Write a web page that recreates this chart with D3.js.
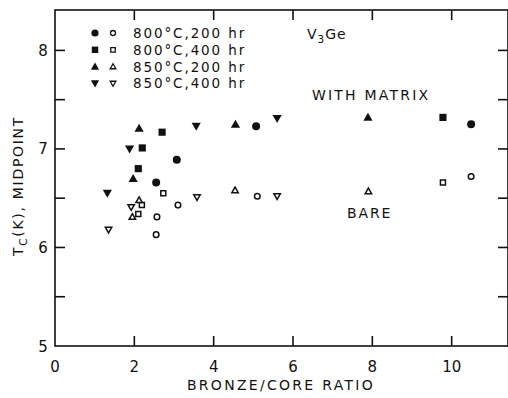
<!DOCTYPE html>
<html>
<head>
<meta charset="utf-8">
<script src="https://cdn.jsdelivr.net/npm/d3@7"></script>
<style>
  body { margin: 0; background: #fff; }
  svg { display: block; }
  text { font-family: "DejaVu Sans", "Liberation Sans", sans-serif; fill: #111; }
</style>
</head>
<body>
<div id="chart"></div>
<script>
"use strict";

// legend / series labels
var seriesNames = ["800\u00B0C,200 hr", "800\u00B0C,400 hr", "850\u00B0C,200 hr", "850\u00B0C,400 hr"];
var seriesShapes = ["circle", "square", "up", "down"];

// [bronze/core ratio, Tc] -- filled = with matrix, open = bare
var c800h200Matrix = [[2.55, 6.66], [3.07, 6.89], [5.07, 7.23], [10.49, 7.25]];
var c800h200Bare   = [[2.55, 6.13], [2.57, 6.31], [3.10, 6.43], [5.10, 6.52], [10.49, 6.72]];
var c800h400Matrix = [[2.10, 6.80], [2.20, 7.01], [2.70, 7.17], [9.78, 7.32]];
var c800h400Bare   = [[2.10, 6.34], [2.19, 6.43], [2.73, 6.55], [9.78, 6.66]];
var c850h200Matrix = [[1.97, 6.70], [2.12, 7.21], [4.55, 7.25], [7.89, 7.32]];
var c850h200Bare   = [[1.95, 6.31], [2.12, 6.48], [4.54, 6.58], [7.90, 6.57]];
var c850h400Matrix = [[1.32, 6.55], [1.88, 7.00], [3.56, 7.23], [5.60, 7.31]];
var c850h400Bare   = [[1.35, 6.18], [1.92, 6.41], [3.58, 6.51], [5.60, 6.52]];

var xTicks = [0, 2, 4, 6, 8, 10];
var yTicks = [5, 6, 7, 8];
var yMinor = [5.5, 6.5, 7.5];

var W = 508, H = 398;
var margin = {left: 55, top: 10, right: 0, bottom: 52};

var svg = d3.select("#chart").append("svg")
	.attr("width", W).attr("height", H);

var x = d3.scaleLinear().domain([0, 11.42]).range([margin.left, W - margin.right]);
var y = d3.scaleLinear().domain([5, 8.41]).range([H - margin.bottom, margin.top]);

//
//	frame + ticks (all ticks point inward)
//
var ax = svg.append("g").attr("stroke", "#111").attr("stroke-width", 1.6).attr("fill", "none");
ax.append("rect")
	.attr("x", x(0)).attr("y", y(8.41))
	.attr("width", x(11.42) - x(0)).attr("height", y(5) - y(8.41));

var tickLen = 10;
xTicks.filter(function(d){ return d > 0; }).forEach(function(d){
	ax.append("line").attr("x1", x(d)).attr("x2", x(d)).attr("y1", y(5)).attr("y2", y(5) - tickLen);
	ax.append("line").attr("x1", x(d)).attr("x2", x(d)).attr("y1", y(8.41)).attr("y2", y(8.41) + tickLen);
});
yTicks.concat(yMinor).filter(function(d){ return d > 5; }).forEach(function(d){
	ax.append("line").attr("x1", x(0)).attr("x2", x(0) + tickLen).attr("y1", y(d)).attr("y2", y(d));
	ax.append("line").attr("x1", x(11.42)).attr("x2", x(11.42) - tickLen).attr("y1", y(d)).attr("y2", y(d));
});

// tick labels
svg.append("g").selectAll("text").data(xTicks).join("text")
	.attr("x", function(d){ return x(d); }).attr("y", 372)
	.attr("text-anchor", "middle").style("font-size", "15px")
	.text(function(d){ return d; });
svg.append("g").selectAll("text").data(yTicks).join("text")
	.attr("x", 43).attr("y", function(d){ return y(d) + 5.5; })
	.attr("text-anchor", "middle").style("font-size", "15px")
	.text(function(d){ return d; });

// axis titles
svg.append("text").attr("x", 281).attr("y", 390).attr("text-anchor", "middle")
	.style("font-size", "14px").style("letter-spacing", "2.3px")
	.text("BRONZE/CORE RATIO");

var yl = svg.append("text").attr("transform", "translate(23,186) rotate(-90)")
	.attr("text-anchor", "middle").style("font-size", "14px").style("letter-spacing", "1.7px");
yl.append("tspan").text("T");
yl.append("tspan").attr("dy", 4).style("font-size", "10.5px").text("C");
yl.append("tspan").attr("dy", -4).text("(K), MIDPOINT");

//
//	markers
//
function symbolPath(shape, r){
	if(shape == "circle") return d3.symbol().type(d3.symbolCircle).size(Math.PI * r * r)();
	if(shape == "square") return d3.symbol().type(d3.symbolSquare).size(4 * r * r * 0.8)();
	var s = r * 1.15;
	if(shape == "up") return "M0," + (-s) + "L" + s + "," + (s * 0.75) + "L" + (-s) + "," + (s * 0.75) + "Z";
	return "M0," + s + "L" + s + "," + (-s * 0.75) + "L" + (-s) + "," + (-s * 0.75) + "Z";
}

var matrixSets = [c800h200Matrix, c800h400Matrix, c850h200Matrix, c850h400Matrix];
var bareSets = [c800h200Bare, c800h400Bare, c850h200Bare, c850h400Bare];

var pts = svg.append("g");
matrixSets.forEach(function(set, i){
	pts.selectAll(null).data(set).join("path")
		.attr("d", symbolPath(seriesShapes[i], 4))
		.attr("transform", function(d){ return "translate(" + x(d[0]) + "," + y(d[1]) + ")"; })
		.attr("fill", "#111");
});
bareSets.forEach(function(set, i){
	pts.selectAll(null).data(set).join("path")
		.attr("d", symbolPath(seriesShapes[i], 2.8))
		.attr("transform", function(d){ return "translate(" + x(d[0]) + "," + y(d[1]) + ")"; })
		.attr("fill", "#fff").attr("stroke", "#111").attr("stroke-width", 1.5);
});

//
//	legend
//
var lg = svg.append("g");
seriesNames.forEach(function(name, i){
	var ly = 33 + i * 16.8;
	lg.append("path").attr("d", symbolPath(seriesShapes[i], 3.6))
		.attr("transform", "translate(95," + ly + ")").attr("fill", "#111");
	lg.append("path").attr("d", symbolPath(seriesShapes[i], 2.5))
		.attr("transform", "translate(113," + ly + ")")
		.attr("fill", "#fff").attr("stroke", "#111").attr("stroke-width", 1.3);
	lg.append("text").attr("x", 133).attr("y", ly + 5)
		.style("font-size", "13.5px").style("letter-spacing", "1.9px").text(name);
});

// annotations
var v3 = svg.append("text").attr("x", 307).attr("y", 39).style("font-size", "14px").style("letter-spacing", "1px");
v3.append("tspan").text("V");
v3.append("tspan").attr("dy", 4).style("font-size", "10.5px").text("3");
v3.append("tspan").attr("dy", -4).text("Ge");

svg.append("text").attr("x", 312).attr("y", 100).style("font-size", "14px").style("letter-spacing", "2.2px")
	.text("WITH MATRIX");
svg.append("text").attr("x", 347).attr("y", 218).style("font-size", "14px").style("letter-spacing", "1.9px")
	.text("BARE");
</script>
</body>
</html>
